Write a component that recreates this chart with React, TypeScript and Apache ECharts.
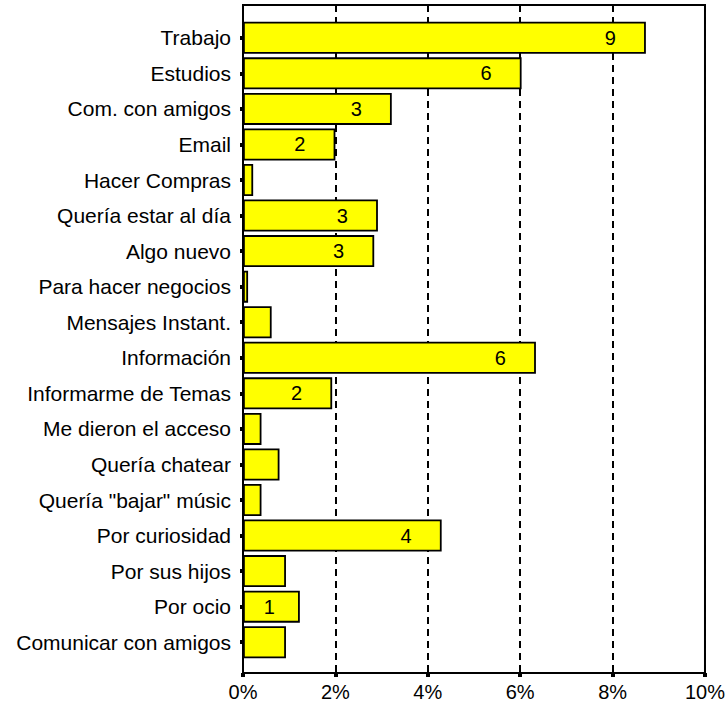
import React, { useEffect, useRef } from "react";
import * as echarts from "echarts";

const categories = [
  "Trabajo",
  "Estudios",
  "Com. con amigos",
  "Email",
  "Hacer Compras",
  "Quería estar al día",
  "Algo nuevo",
  "Para hacer negocios",
  "Mensajes Instant.",
  "Información",
  "Informarme de Temas",
  "Me dieron el acceso",
  "Quería chatear",
  "Quería \"bajar\" músic",
  "Por curiosidad",
  "Por sus hijos",
  "Por ocio",
  "Comunicar con amigos",
];

const values = [8.72, 6.03, 3.22, 2.0, 0.22, 2.92, 2.84, 0.11, 0.62, 6.34, 1.93, 0.4, 0.79, 0.4, 4.3, 0.93, 1.23, 0.93];

const barLabels = ["9", "6", "3", "2", "", "3", "3", "", "", "6", "2", "", "", "", "4", "", "1", ""];

const xTicks = { min: 0, max: 10, interval: 2 };

const FONT = "'Liberation Sans', Arial, sans-serif";

export default function App() {
  const ref = useRef<HTMLDivElement>(null);

  useEffect(() => {
    if (!ref.current) return;
    const chart = echarts.init(ref.current, undefined, { renderer: "svg" });
    const option = {
      animation: false,
      backgroundColor: "#ffffff",
      textStyle: { fontFamily: FONT },
      grid: [
        {
          left: 243,
          right: 23,
          top: 5,
          bottom: 36,
          show: true,
          borderColor: "#000",
          borderWidth: 2,
          backgroundColor: "transparent",
        },
        { left: 243, right: 23, top: 20, bottom: 49 },
      ],
      xAxis: [
        {
          type: "value",
          gridIndex: 0,
          min: xTicks.min,
          max: xTicks.max,
          interval: xTicks.interval,
          axisLine: { show: true, lineStyle: { color: "#000", width: 2 } },
          axisTick: { show: true, length: 4, lineStyle: { color: "#000", width: 4 } },
          axisLabel: {
            formatter: "{value}%",
            color: "#000",
            fontSize: 20,
            fontFamily: FONT,
            margin: 9,
          },
          splitLine: {
            show: true,
            lineStyle: { color: "#000", width: 2, type: [7, 5] },
          },
        },
        {
          type: "value",
          gridIndex: 1,
          min: xTicks.min,
          max: xTicks.max,
          show: false,
        },
      ],
      yAxis: [
        {
          type: "value",
          gridIndex: 0,
          axisLine: { show: true, lineStyle: { color: "#000", width: 2 } },
          axisTick: { show: false },
          axisLabel: { show: false },
          splitLine: { show: false },
        },
        {
          type: "category",
          gridIndex: 1,
          inverse: true,
          data: categories,
          axisLine: { show: false },
          axisTick: {
            show: true,
            alignWithLabel: true,
            length: 3,
            lineStyle: { color: "#000", width: 4 },
          },
          axisLabel: {
            color: "#000",
            fontSize: 21,
            fontFamily: FONT,
            margin: 12,
          },
        },
      ],
      series: [
        {
          type: "bar",
          xAxisIndex: 1,
          yAxisIndex: 1,
          barCategoryGap: "10%",
          data: values.map((v, i) => ({
            value: v,
            label: { show: barLabels[i] !== "", distance: v < 1.5 ? 25 : 30 },
          })),
          itemStyle: { color: "#ffff00", borderColor: "#000", borderWidth: 1.8 },
          label: {
            position: "insideRight",
            distance: 30,
            color: "#000",
            fontSize: 20,
            fontFamily: FONT,
            formatter: (p: any) => barLabels[p.dataIndex],
          },
        },
      ],
    };
    chart.setOption(option as any);
    return () => chart.dispose();
  }, []);

  return (
    <div
      ref={ref}
      style={{ position: "absolute", left: 0, top: 0, width: 728, height: 709 }}
    />
  );
}
